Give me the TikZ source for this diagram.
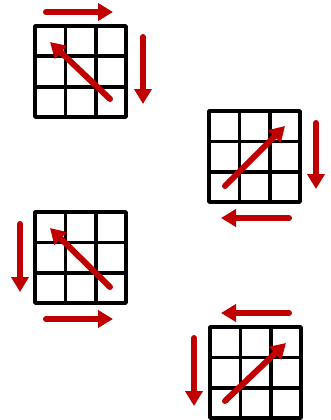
\documentclass[tikz,border=0pt]{standalone}
\usepackage{tikz}
\usetikzlibrary{arrows.meta}

\definecolor{movered}{RGB}{192,0,0}

\begin{document}
\begin{tikzpicture}[x=1pt, y=-1pt,
    boardline/.style={line width=3.6pt, black, line join=round},
    move/.style={-{Triangle[length=15pt, width=17pt]}, line width=6pt,
      movered, line cap=round},
    board/.pic={
      \draw[boardline] (0,0) rectangle (91,91);
      \foreach \k in {30.3,60.7} {
        \draw[boardline] (\k,0) -- (\k,91);
        \draw[boardline] (0,\k) -- (91,\k);
      }
    }
  ]
  \useasboundingbox (0,0) rectangle (330,420);

  % boards
  \pic at (35,26)   {board};
  \pic at (209,111) {board};
  \pic at (35,212)  {board};
  \pic at (210,327) {board};

  % board 1
  \coordinate (a1) at (46,12);   \coordinate (b1) at (113,12);
  \coordinate (c1) at (143,37);  \coordinate (d1) at (143,104);
  \coordinate (e1) at (110,99);  \coordinate (f1) at (50,42);
  \draw[move] (a1) -- (b1);
  \draw[move] (c1) -- (d1);
  \draw[move] (e1) -- (f1);

  % board 2
  \coordinate (a2) at (316,123); \coordinate (b2) at (316,189);
  \coordinate (c2) at (289,218); \coordinate (d2) at (221,218);
  \coordinate (e2) at (225,186); \coordinate (f2) at (285,126);
  \draw[move] (a2) -- (b2);
  \draw[move] (c2) -- (d2);
  \draw[move] (e2) -- (f2);

  % board 3
  \coordinate (a3) at (20,224);  \coordinate (b3) at (20,292);
  \coordinate (c3) at (46,319);  \coordinate (d3) at (113,319);
  \coordinate (e3) at (110,287); \coordinate (f3) at (50,228);
  \draw[move] (a3) -- (b3);
  \draw[move] (c3) -- (d3);
  \draw[move] (e3) -- (f3);

  % board 4
  \coordinate (a4) at (289,313); \coordinate (b4) at (221,313);
  \coordinate (c4) at (194,338); \coordinate (d4) at (194,406);
  \coordinate (e4) at (225,401); \coordinate (f4) at (286,343);
  \draw[move] (a4) -- (b4);
  \draw[move] (c4) -- (d4);
  \draw[move] (e4) -- (f4);
\end{tikzpicture}
\end{document}
